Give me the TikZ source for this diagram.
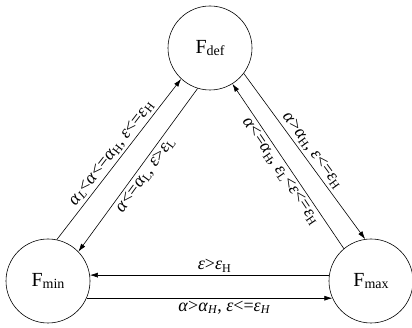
\documentclass[tikz,border=0pt]{standalone}
\usepackage{fontspec}
\setmainfont{Liberation Serif}
\usepackage{tikz}
\usetikzlibrary{arrows.meta, positioning}

% small lowered index
\newcommand{\idx}[1]{\raisebox{-0.3ex}{\fontsize{12}{12}\selectfont #1}}
\newcommand{\al}{\textit{α}}
\newcommand{\ep}{\textit{ε}}

\begin{document}
\begin{tikzpicture}[
    x=1pt, y=-1pt,
    state/.style={
        draw, circle, line width=0.6pt,
        minimum size=84pt, inner sep=0pt,
        font=\fontsize{20}{20}\selectfont
    },
    rel/.style={
        -{Latex[length=8pt, width=5pt]}, line width=0.6pt
    },
    relback/.style={
        {Latex[length=8pt, width=5pt]}-, line width=0.6pt
    },
    lbl/.style={
        font=\fontsize{18}{18}\selectfont, inner sep=2.5pt
    }
]
\useasboundingbox (0,0) rectangle (412,328);

% states
\node[state] (fdef) at (210,48) {F\idx{\fontsize{14}{14}\selectfont def}};
\node[state] (fmin) at (48,281) {F\idx{\fontsize{14}{14}\selectfont min}};
\node[state] (fmax) at (371,281) {F\idx{\fontsize{14}{14}\selectfont max}};

% fmin <-> fdef
\draw[rel] (fmin.78) -- node[lbl, sloped, above]
    {\al\idx{\textit{L}}<\al<=\al\idx{H}, \ep<=\ep\idx{H}} (fdef.227);
\draw[relback] (fmin.44) -- node[lbl, sloped, below]
    {\al<=\al\idx{L}, \ep>\ep\idx{L}} (fdef.253);

% fdef <-> fmax
\draw[rel] (fdef.323) -- node[lbl, sloped, above]
    {\al>\al\idx{H}, \ep<=\ep\idx{H}} (fmax.98);
\draw[relback] (fdef.302) -- node[lbl, sloped, below]
    {\al<=\al\idx{H}, \ep\idx{L}<\ep<=\ep\idx{H}} (fmax.130);

% fmin <-> fmax
\draw[relback] (fmin.8) -- node[lbl, above, pos=0.52] {\ep>\ep\idx{H}} (fmax.172);
\draw[rel] (fmin.-24) -- node[lbl, below, pos=0.56]
    {\al>\al\idx{\textit{H}}, \ep<=\ep\idx{\textit{H}}} (fmax.204);

\end{tikzpicture}
\end{document}
